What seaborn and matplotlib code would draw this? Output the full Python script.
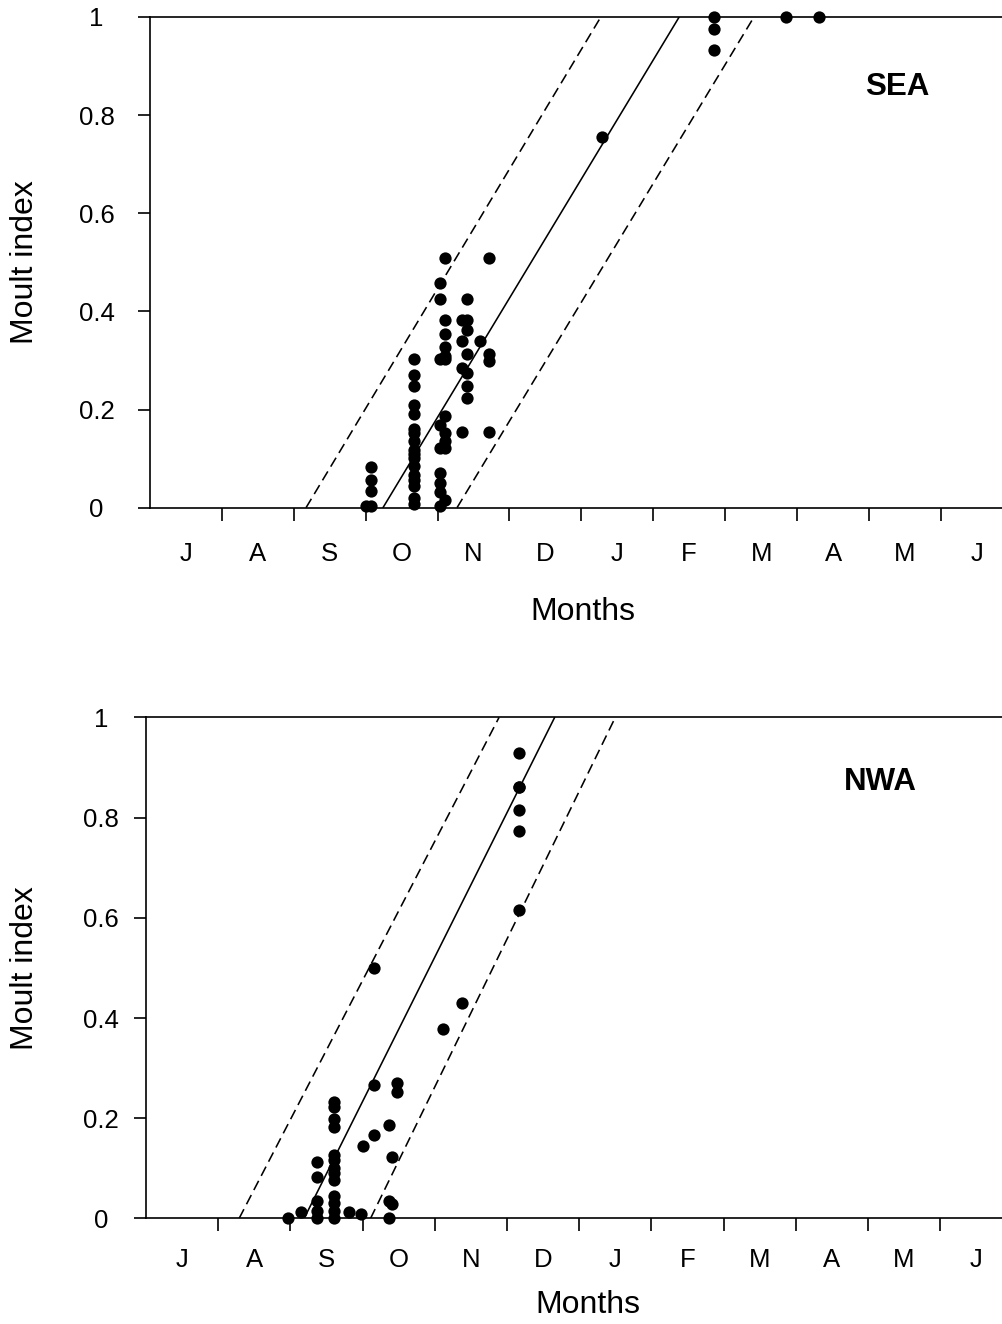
import numpy as np
import pandas as pd
import matplotlib.pyplot as plt
import seaborn as sns

# month labels (July -> June), y ticks
months = ['J', 'A', 'S', 'O', 'N', 'D', 'J', 'F', 'M', 'A', 'M', 'J']
y_ticks = [0, 0.2, 0.4, 0.6, 0.8, 1]
y_tick_labels = ['0', '0.2', '0.4', '0.6', '0.8', '1']

# SEA: x = months since 1 July, y = moult index
sea_x = [3.01,
         3.08, 3.08, 3.08, 3.08,
         3.67, 3.67, 3.67, 3.67, 3.67, 3.67, 3.67, 3.67, 3.67, 3.67, 3.67, 3.67, 3.67, 3.67, 3.67, 3.67, 3.67,
         4.04, 4.04, 4.04, 4.04, 4.04, 4.04, 4.04, 4.04, 4.04,
         4.10, 4.10, 4.10, 4.10, 4.10, 4.10, 4.10, 4.10, 4.10, 4.10, 4.10,
         4.34, 4.34, 4.34, 4.34,
         4.41, 4.41, 4.41, 4.41, 4.41, 4.41, 4.41,
         4.59,
         4.71, 4.71, 4.71, 4.71,
         6.28,
         7.85, 7.85, 7.85,
         8.84, 9.31]
sea_y = [0.004,
         0.004, 0.035, 0.057, 0.083,
         0.303, 0.271, 0.248, 0.210, 0.190, 0.160, 0.152, 0.135, 0.118, 0.110, 0.101, 0.084, 0.067, 0.057, 0.045, 0.020, 0.008,
         0.457, 0.426, 0.304, 0.169, 0.122, 0.071, 0.050, 0.033, 0.003,
         0.508, 0.382, 0.354, 0.327, 0.310, 0.304, 0.186, 0.152, 0.135, 0.122, 0.016,
         0.382, 0.339, 0.285, 0.154,
         0.426, 0.382, 0.363, 0.314, 0.275, 0.248, 0.224,
         0.339,
         0.508, 0.314, 0.299, 0.154,
         0.756,
         1.0, 0.976, 0.933,
         1.0, 1.0]

# SEA fitted moult line and limits (month where index = 0 and = 1)
sea_fit_start = [2.17, 3.24, 4.27]
sea_fit_end = [6.27, 7.36, 8.40]

# NWA
nwa_x = [1.97,
         2.14,
         2.37, 2.37, 2.37, 2.37, 2.37,
         2.61, 2.61, 2.61, 2.61, 2.61, 2.61, 2.61, 2.61, 2.61, 2.61, 2.61, 2.61, 2.61,
         2.81, 2.98, 3.01,
         3.16, 3.16, 3.16,
         3.36, 3.36, 3.36,
         3.41, 3.41,
         3.48, 3.48,
         4.11, 4.37,
         5.17, 5.17, 5.17, 5.17, 5.17, 5.17]
nwa_y = [0.0,
         0.012,
         0.112, 0.083, 0.034, 0.014, 0.0,
         0.233, 0.223, 0.199, 0.183, 0.127, 0.117, 0.100, 0.090, 0.077, 0.044, 0.030, 0.014, 0.0,
         0.012, 0.009, 0.145,
         0.266, 0.167, 0.499,
         0.187, 0.034, 0.0,
         0.123, 0.029,
         0.271, 0.253,
         0.378, 0.430,
         0.929, 0.861, 0.861, 0.815, 0.774, 0.616]

nwa_fit_start = [1.29, 2.19, 3.11]
nwa_fit_end = [4.89, 5.66, 6.50]

fit_styles = [(0, (6.5, 3.5)), '-', (0, (6.5, 3.5))]

sns.set_style('ticks')
plt.rcParams['font.family'] = ['Liberation Sans', 'DejaVu Sans']
plt.rcParams['text.color'] = 'black'
plt.rcParams['axes.labelcolor'] = 'black'
plt.rcParams['xtick.color'] = 'black'
plt.rcParams['ytick.color'] = 'black'
plt.rcParams['axes.edgecolor'] = 'black'

W, H = 1003, 1324
fig = plt.figure(figsize=(W / 100, H / 100), dpi=100)


def rect(l, r, t, b):
    return [l / W, 1 - b / H, (r - l) / W, (b - t) / H]


panels = [
    dict(name='SEA', x=sea_x, y=sea_y, f0=sea_fit_start, f1=sea_fit_end,
         box=rect(150, 150 + 12 * 71.9, 17, 507.7), xpad=24.5, ypad=29.5,
         ylab_x=-0.145, xlab=(0.502, -0.213), txt=(10.39, 0.857)),
    dict(name='NWA', x=nwa_x, y=nwa_y, f0=nwa_fit_start, f1=nwa_fit_end,
         box=rect(146, 146 + 12 * 72.2, 717.4, 1218.4), xpad=21.6, ypad=23.5,
         ylab_x=-0.140, xlab=(0.510, -0.173), txt=(10.17, 0.871)),
]

for p in panels:
    ax = fig.add_axes(p['box'])
    df = pd.DataFrame({'month': p['x'], 'moult': p['y']})

    # fitted line and confidence limits
    for s, e, ls in zip(p['f0'], p['f1'], fit_styles):
        fit = pd.DataFrame({'month': [s, e], 'moult': [0, 1]})
        sns.lineplot(data=fit, x='month', y='moult', ax=ax, color='black',
                     linewidth=1.15, linestyle=ls, zorder=2)

    sns.scatterplot(data=df, x='month', y='moult', ax=ax, color='black',
                    s=78, linewidth=0, clip_on=False, zorder=3)

    ax.set_xlim(0, 12)
    ax.set_ylim(0, 1)

    # month boundaries as ticks, labels in between
    ax.set_xticks(np.arange(1, 12))
    ax.set_xticklabels([])
    ax.set_xticks(np.arange(12) + 0.5, minor=True)
    ax.set_xticklabels(months, minor=True, fontsize=18.5)
    ax.tick_params(axis='x', which='major', direction='out', length=9, width=1.2)
    ax.tick_params(axis='x', which='minor', length=0, pad=p['xpad'])

    ax.set_yticks(y_ticks)
    ax.set_yticklabels(y_tick_labels, fontsize=18.5, ha='center')
    ax.tick_params(axis='y', direction='out', length=9, width=1.2, pad=p['ypad'])

    for side in ['left', 'bottom', 'top']:
        ax.spines[side].set_linewidth(1.2)
    ax.spines['right'].set_visible(False)

    ax.set_xlabel('Months', fontsize=23)
    ax.xaxis.label.set_va('center')
    ax.xaxis.set_label_coords(*p['xlab'])
    ax.set_ylabel('Moult index', fontsize=23)
    ax.yaxis.label.set_va('center')
    ax.yaxis.set_label_coords(p['ylab_x'], 0.5)

    ax.text(p['txt'][0], p['txt'][1], p['name'], fontsize=22.5,
            fontweight='bold', ha='center', va='center')

fig.savefig('out.png', dpi=100)
